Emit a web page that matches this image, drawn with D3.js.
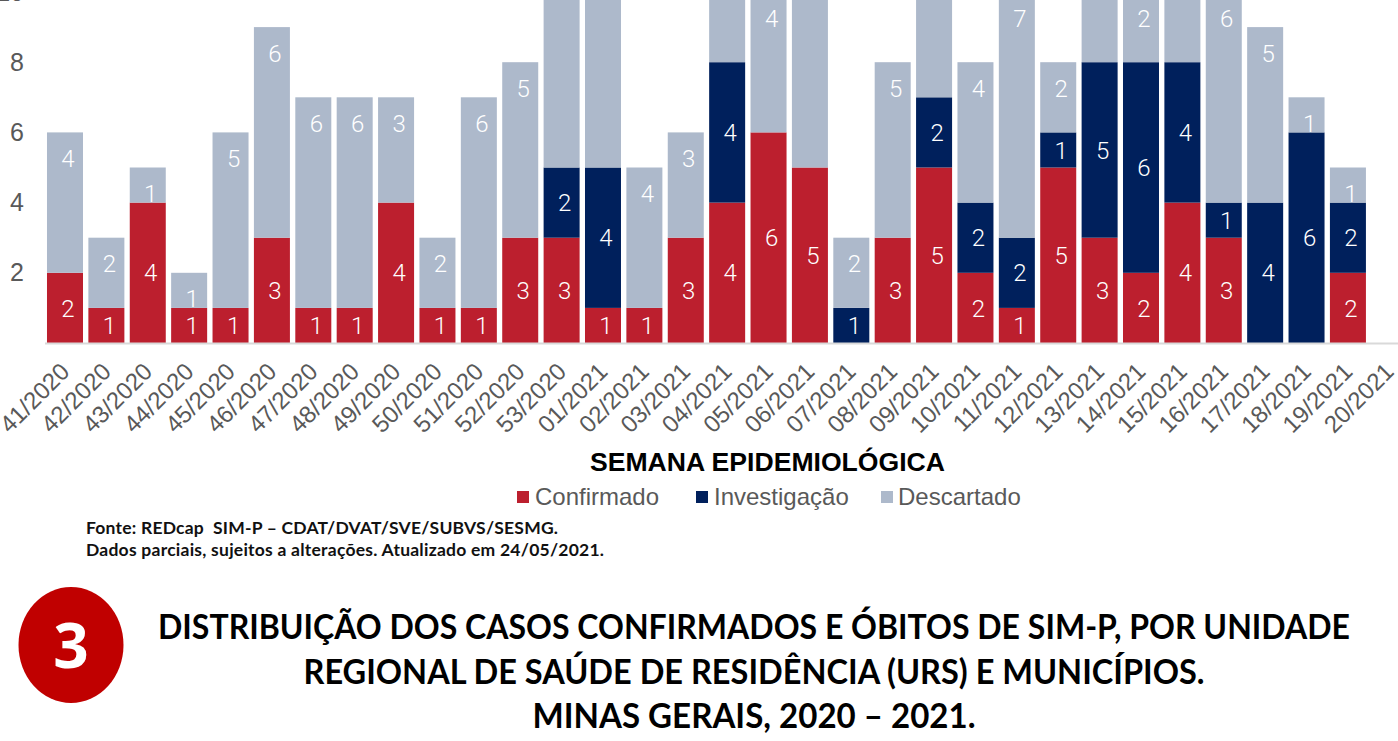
<!DOCTYPE html>
<html lang="pt">
<head>
<meta charset="utf-8">
<title>Semana epidemiológica</title>
<script src="https://cdn.jsdelivr.net/npm/d3@7/dist/d3.min.js"></script>
<style>
html,body{margin:0;padding:0;background:#fff;overflow:hidden}
svg{display:block}
text{font-family:"Liberation Sans",Arial,sans-serif}
</style>
</head>
<body>
<svg id="c" width="1398" height="741"></svg>
<script>
const weeks = ["41/2020","42/2020","43/2020","44/2020","45/2020","46/2020","47/2020","48/2020","49/2020","50/2020","51/2020","52/2020","53/2020","01/2021","02/2021","03/2021","04/2021","05/2021","06/2021","07/2021","08/2021","09/2021","10/2021","11/2021","12/2021","13/2021","14/2021","15/2021","16/2021","17/2021","18/2021","19/2021","20/2021"];
const confirmado  = [2,1,4,1,1,3,1,1,4,1,1,3,3,1,1,3,4,6,5,0,3,5,2,1,5,3,2,4,3,0,0,2,0];
const investigacao = [0,0,0,0,0,0,0,0,0,0,0,0,2,4,0,0,4,0,0,1,0,2,2,2,1,5,6,4,1,4,6,2,0];
const descartado  = [4,2,1,1,5,6,6,6,3,2,6,5,7,7,4,3,4,4,7,2,5,5,4,7,2,4,2,4,6,5,1,1,0];
const seriesNames = ["Confirmado","Investigação","Descartado"];
const seriesColors = ["#BC1F2E","#00205C","#ADB9CB"];
const yTicks = [2,4,6,8,10];
const axisTitle = "SEMANA EPIDEMIOLÓGICA";
const sourceLines = ["Fonte: REDcap  SIM-P – CDAT/DVAT/SVE/SUBVS/SESMG.","Dados parciais, sujeitos a alterações. Atualizado em 24/05/2021."];
const headingLines = ["DISTRIBUIÇÃO DOS CASOS CONFIRMADOS E ÓBITOS DE SIM-P, POR UNIDADE","REGIONAL DE SAÚDE DE RESIDÊNCIA (URS) E MUNICÍPIOS.","MINAS GERAIS, 2020 – 2021."];

const svg = d3.select("#c");
const rows = weeks.map((w,i)=>({week:w,c:confirmado[i],i:investigacao[i],d:descartado[i]}));
const x = d3.scaleBand().domain(weeks).range([44.3,1410]).paddingInner(0.13).paddingOuter(0.065);
const y = d3.scaleLinear().domain([0,10]).range([343,-8]);
const stack = d3.stack().keys(["c","i","d"])(rows);

const grey = "#595959";
const numFont = "Roboto";
// bars
const g = svg.append("g");
stack.forEach((s,si)=>{
  g.append("g").selectAll("rect").data(s.filter(d=>d[1]>d[0])).join("rect")
    .attr("x",d=>x(d.data.week)).attr("width",x.bandwidth())
    .attr("y",d=>y(d[1])).attr("height",d=>y(d[0])-y(d[1]))
    .attr("fill",seriesColors[si]);
});
// axis line + labels
const xAxis = d3.axisBottom(x).tickSize(0).tickPadding(0);
const xg = svg.append("g").attr("transform","translate(0,343)").call(xAxis);
xg.select(".domain").attr("stroke","#D9D9D9").attr("stroke-width",2).attr("d","M45,0.5H1398");
xg.selectAll("text").attr("font-size",24).attr("font-family",numFont).attr("font-weight",300).attr("fill",grey)
  .attr("text-anchor","end").attr("dy",null).attr("y",0)
  .attr("transform","translate(6,30) rotate(-45)");
const yAxis = d3.axisLeft(y).tickValues(yTicks).tickSize(0).tickPadding(0);
const yg = svg.append("g").attr("transform","translate(24,0)").call(yAxis);
yg.select(".domain").remove();
yg.selectAll("text").attr("font-size",25).attr("font-family",numFont).attr("font-weight",300).attr("fill",grey);

// data labels
const labels = [];
stack.forEach((s,si)=>s.forEach(d=>{
  const v=d[1]-d[0]; if(v<=0) return;
  const py = si===2 ? y(d[1])+26 : y((d[0]+d[1])/2);
  if(py<-6) return;
  labels.push({x:x(d.data.week)+x.bandwidth()/2+3,y:py,v});
}));
svg.append("g").selectAll("text").data(labels).join("text")
  .attr("x",d=>d.x).attr("y",d=>d.y).attr("dy","0.36em")
  .attr("text-anchor","middle").attr("fill","#fff").attr("font-size",24).attr("font-weight",300).style("font-family",numFont).text(d=>d.v);

// axis title
svg.append("text").attr("x",767.5).attr("y",471).attr("text-anchor","middle")
  .attr("font-size",26.6).attr("font-weight",700).attr("fill","#000").text(axisTitle);

// legend
const legendX=[517,696,881], legendText=[535,714,898];
seriesNames.forEach((n,i)=>{
  svg.append("rect").attr("x",legendX[i]).attr("y",491).attr("width",12).attr("height",12).attr("fill",seriesColors[i]);
  svg.append("text").attr("x",legendText[i]).attr("y",505).attr("font-size",24).attr("fill",grey).text(n);
});

// source
const sourceWidths=[472,518];
svg.selectAll("text.src").data(sourceLines).join("text").attr("class","src")
  .attr("x",86).attr("y",(d,i)=>[534,556][i]).attr("font-size",17.5).attr("font-weight",700)
  .attr("textLength",(d,i)=>sourceWidths[i]).attr("lengthAdjust","spacing")
  .style("white-space","pre").style("font-family","Lato").attr("fill","#111").text(d=>d);

// badge
svg.append("ellipse").attr("cx",71).attr("cy",645).attr("rx",52.5).attr("ry",58).attr("fill","#C00000");
svg.append("text").attr("x",71).attr("y",668).attr("text-anchor","middle").attr("font-size",62).attr("font-weight",700)
  .style("font-family","Open Sans").attr("fill","#fff").text("3");

// heading
const headingWidths=[1192,901,443];
svg.selectAll("text.h").data(headingLines).join("text").attr("class","h")
  .attr("x",754).attr("y",(d,i)=>[639,684,728][i]).attr("text-anchor","middle")
  .attr("font-size",35).attr("font-weight",700).attr("textLength",(d,i)=>headingWidths[i]).attr("lengthAdjust","spacingAndGlyphs")
  .style("font-family","Lato").attr("fill","#000").text(d=>d);
</script>
</body>
</html>
